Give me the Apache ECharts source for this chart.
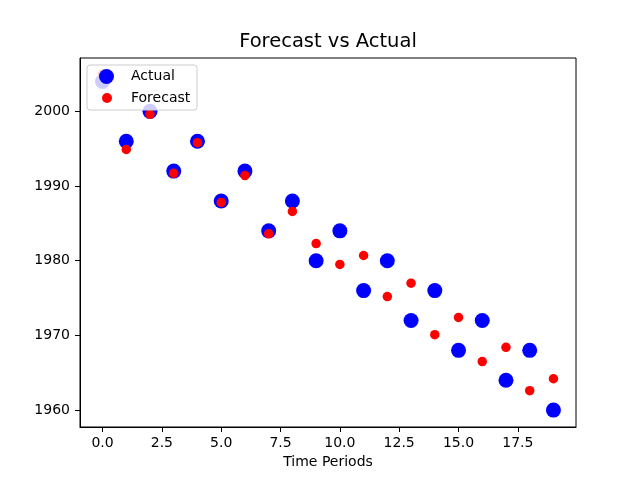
<!DOCTYPE html>
<html>
<head>
<meta charset="utf-8">
<script src="https://cdn.jsdelivr.net/npm/echarts@6/dist/echarts.min.js"></script>
<style>
  html, body { margin: 0; padding: 0; background: #fff; }
  #chart { width: 640px; height: 480px; }
</style>
</head>
<body>
<div id="chart"></div>
<script>
// time periods 0..19
const periods = [0, 1, 2, 3, 4, 5, 6, 7, 8, 9, 10, 11, 12, 13, 14, 15, 16, 17, 18, 19];
const actual = [2004, 1996, 2000, 1992, 1996, 1988, 1992, 1984, 1988, 1980,
                1984, 1976, 1980, 1972, 1976, 1968, 1972, 1964, 1968, 1960];
const forecast = [2005, 1994.9, 1999.6, 1991.7, 1995.8, 1987.8, 1991.4, 1983.6, 1986.6, 1982.3,
                  1979.5, 1980.7, 1975.2, 1977.0, 1970.1, 1972.4, 1966.5, 1968.4, 1962.6, 1964.2];
const xTicks = [0, 2.5, 5, 7.5, 10, 12.5, 15, 17.5];
const yTicks = [1960, 1970, 1980, 1990, 2000];

const font = 'DejaVu Sans';
const chart = echarts.init(document.getElementById('chart'));

const option = {
    animation: false,
    backgroundColor: '#fff',
    title: {
        text: 'Forecast vs Actual',
        left: 328,
        textAlign: 'center',
        top: 32,
        padding: 0,
        textStyle: { fontFamily: font, fontSize: 19.5, fontWeight: 'normal', color: '#000' }
    },
    grid: {
        left: 80, right: 64, top: 58, bottom: 53,
        show: true, borderColor: '#000', borderWidth: 1
    },
    graphic: [{
        // legend frame
        type: 'rect',
        z: 50,
        shape: { x: 87, y: 65, width: 110, height: 45, r: 3 },
        style: { fill: 'rgba(255,255,255,0.8)', stroke: '#cccccc', lineWidth: 1 }
    }],
    legend: [{
        data: ['Actual'],
        left: 99, top: 69, padding: 0, z: 60,
        itemWidth: 15, itemHeight: 15,
        textStyle: { fontFamily: font, fontSize: 14, color: '#000', padding: [0, 0, 0, 12] }
    }, {
        data: ['Forecast'],
        left: 102, top: 91, padding: 0, z: 60,
        itemWidth: 10, itemHeight: 10,
        textStyle: { fontFamily: font, fontSize: 14, color: '#000', padding: [0, 0, 0, 14] }
    }],
    xAxis: {
        type: 'value',
        min: -0.95, max: 19.95,
        name: 'Time Periods',
        nameLocation: 'middle',
        nameGap: 28,
        nameTextStyle: { fontFamily: font, fontSize: 14, color: '#000' },
        axisLine: { onZero: false, lineStyle: { color: '#000' } },
        axisTick: { show: true, length: 5, lineStyle: { color: '#000' }, customValues: xTicks },
        axisLabel: {
            margin: 9, fontFamily: font, fontSize: 14, color: '#000',
            customValues: xTicks,
            formatter: v => v.toFixed(1)
        },
        splitLine: { show: false }
    },
    yAxis: {
        type: 'value',
        min: 1957.74, max: 2007.14,
        axisLine: { show: true, onZero: false, lineStyle: { color: '#000' } },
        axisTick: { show: true, length: 5, lineStyle: { color: '#000' }, customValues: yTicks },
        axisLabel: {
            margin: 10, fontFamily: font, fontSize: 14, color: '#000',
            customValues: yTicks,
            formatter: v => String(v)
        },
        splitLine: { show: false }
    },
    series: [{
        name: 'Actual',
        type: 'scatter',
        symbol: 'circle',
        symbolSize: 15,
        itemStyle: { color: '#0000ff', opacity: 1 },
        data: periods.map((p, i) => [p, actual[i]])
    }, {
        name: 'Forecast',
        type: 'scatter',
        symbol: 'circle',
        symbolSize: 9.5,
        itemStyle: { color: '#ff0000', opacity: 1 },
        data: periods.map((p, i) => [p, forecast[i]])
    }]
};

chart.setOption(option);
</script>
</body>
</html>
